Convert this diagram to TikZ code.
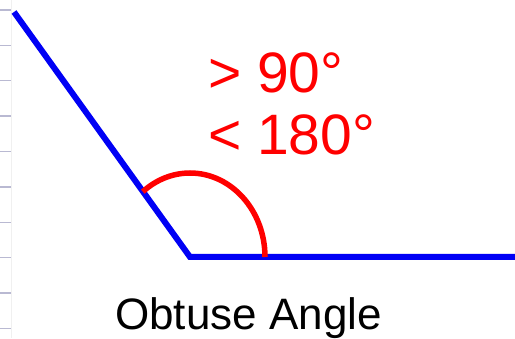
\documentclass[tikz,border=0pt]{standalone}
\usepackage{fontspec}
\setmainfont{Liberation Sans}
\definecolor{lineblue}{RGB}{0,0,245}
\definecolor{arcred}{RGB}{255,0,0}
\definecolor{tickgray}{RGB}{185,185,210}
\tikzset{
  ray/.style={draw=lineblue, line width=6pt, line join=miter},
  anglearc/.style={draw=arcred, line width=5.5pt},
  tick/.style={draw=tickgray, line width=1.4pt},
  redlabel/.style={text=arcred, font=\fontsize{57}{62}\selectfont, inner sep=0pt, anchor=base west},
  caption/.style={text=black, font=\fontsize{44}{50}\selectfont, inner sep=0pt, anchor=base west}
}
\begin{document}
\begin{tikzpicture}[x=1pt,y=1pt]
\useasboundingbox[fill=white] (0,0) rectangle (515,338);
% left margin marks
\draw[draw=black!6, line width=0.8pt] (11,0) -- (11,338);
\foreach \k in {0,...,9}{
  \draw[tick] (0,{338-10-35.4*\k}) -- (11,{338-10-35.4*\k});
}
% angle
\coordinate (A) at (14,326);
\coordinate (V) at (190,81);
\coordinate (B) at (515,81);
\draw[ray] (A) -- (V) -- (B);
\draw[anglearc] ([xshift=75pt]V) arc[start angle=0, end angle=129, x radius=75pt, y radius=84pt];
% labels
\node[redlabel] (gt) at (208,245) {> 90°};
\node[redlabel] (lt) at (208,183) {< 180°};
\node[caption] (cap) at (115,9) {Obtuse Angle};
\end{tikzpicture}
\end{document}
